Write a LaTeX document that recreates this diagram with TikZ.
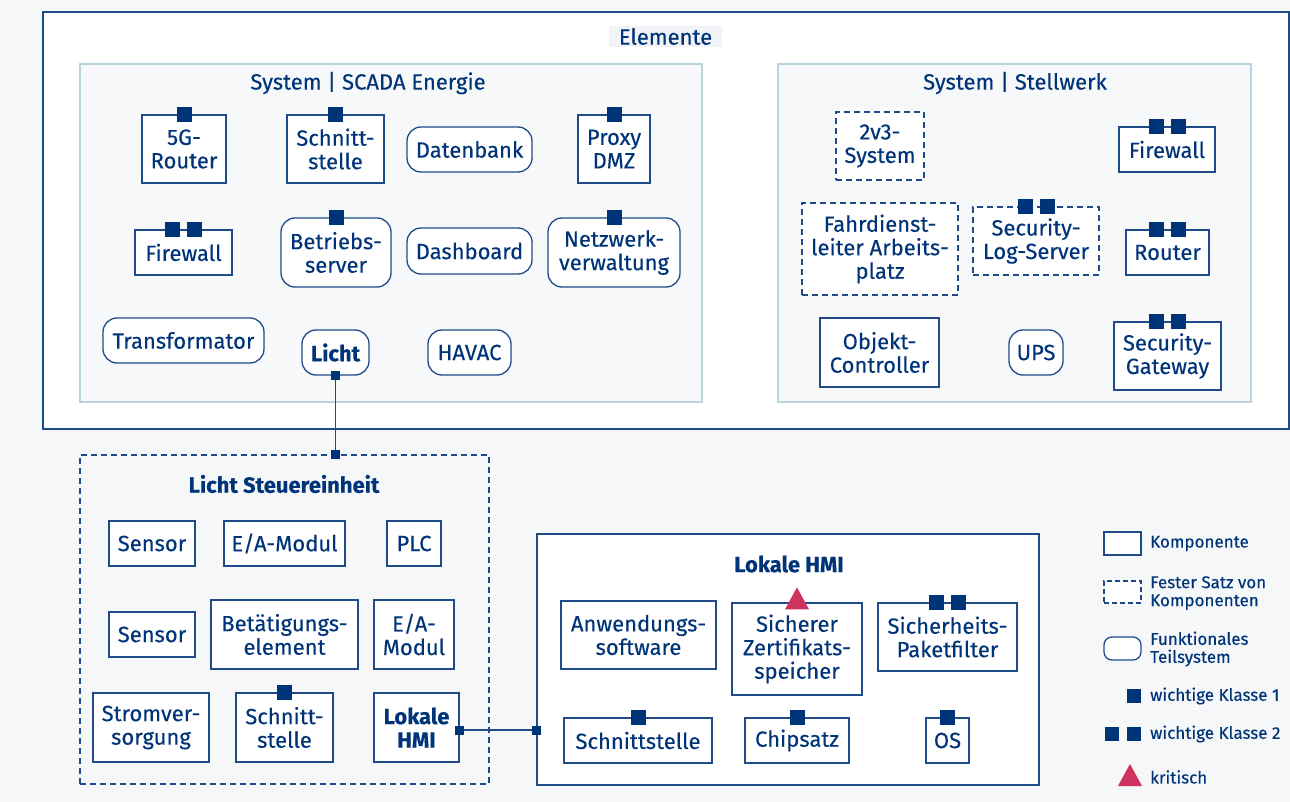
\documentclass[tikz,border=0pt]{standalone}
\usepackage{fontspec}
\setmainfont{Fira Sans}[FakeBold=0.25]
\usetikzlibrary{calc}

\definecolor{navy}{HTML}{003478}
\definecolor{edgeblue}{HTML}{1F4B88}
\definecolor{pagebg}{HTML}{F6F7F9}
\definecolor{sysfill}{HTML}{F6F8FA}
\definecolor{sysedge}{HTML}{B9D2DC}
\definecolor{labelbg}{HTML}{F1F3F6}
\definecolor{crit}{HTML}{D0325F}

\newcommand\dgmfont{\fontsize{22}{23.5}\selectfont}
\newcommand\legfont{\fontsize{17}{18}\selectfont}

\tikzset{
  comp/.style={draw=edgeblue, fill=white, line width=1.3pt, inner sep=0pt,
    align=center, text=navy, font=\dgmfont},
  fixset/.style={comp, dash pattern=on 6pt off 4pt},
  func/.style={comp, rounded corners=14pt},
  frame/.style={draw=edgeblue, line width=1.3pt, inner sep=0pt},
  sysbox/.style={draw=sysedge, fill=sysfill, line width=1.3pt, inner sep=0pt},
  ttl/.style={text=navy, font=\dgmfont, inner sep=0pt},
  mk/.style={fill=navy, minimum size=15pt, inner sep=0pt},
  endmk/.style={fill=navy, minimum size=9pt, inner sep=0pt},
  conn/.style={draw=edgeblue, line width=1.3pt},
  legtext/.style={text=navy, font=\legfont, anchor=west, align=left, inner sep=0pt},
}

\begin{document}
\begin{tikzpicture}[x=1pt, y=-1pt]
\useasboundingbox (0,0) rectangle (1290,802);
\fill[pagebg] (0,0) rectangle (1290,802);

% outer frame of all elements
\node[frame, fill=white, minimum width=1246pt, minimum height=417pt] (elem) at (666,220.5) {};
\node[ttl, fill=labelbg, minimum width=113pt, minimum height=21pt] (elemttl) at (665.5,36.5) {Elemente};

% --- System | SCADA Energie ---
\node[sysbox, minimum width=622pt, minimum height=338pt] (scada) at (391,233) {};
\node[ttl] (scadattl) at (368,83) {System | SCADA Energie};

\node[comp, minimum width=84pt, minimum height=68pt] (r5g) at (184,149) {5G-\\Router};
\node[comp, minimum width=97pt, minimum height=68pt] (schnA) at (335.5,149) {Schnitt-\\stelle};
\node[func, minimum width=125pt, minimum height=45pt] (db) at (469.5,149.5) {Datenbank};
\node[comp, minimum width=72pt, minimum height=68pt] (proxy) at (614,149) {Proxy\\DMZ};
\node[comp, minimum width=97pt, minimum height=45pt] (fwA) at (183.5,252.5) {Firewall};
\node[func, minimum width=110pt, minimum height=69pt] (betr) at (336,252.5) {Betriebs-\\server};
\node[func, minimum width=125pt, minimum height=46pt] (dash) at (469.5,251) {Dashboard};
\node[func, minimum width=132pt, minimum height=69pt] (netz) at (614,252.5) {Netzwerk-\\verwaltung};
\node[func, minimum width=161pt, minimum height=45pt] (trafo) at (183.5,340.5) {Transformator};
\node[func, minimum width=67pt, minimum height=45pt, font=\dgmfont\bfseries] (licht) at (335.5,352.5) {Licht};
\node[func, minimum width=83pt, minimum height=45pt] (havac) at (469.5,352.5) {HAVAC};

\node[mk] at (r5g.north) {};
\node[mk] at (schnA.north) {};
\node[mk] at (proxy.north) {};
\node[mk] at ([xshift=-11pt]fwA.north) {};
\node[mk] at ([xshift=11pt]fwA.north) {};
\node[mk] at (betr.north) {};
\node[mk] at (netz.north) {};

% --- System | Stellwerk ---
\node[sysbox, minimum width=473pt, minimum height=338pt] (stw) at (1014.5,233) {};
\node[ttl] (stwttl) at (1015,83) {System | Stellwerk};

\node[fixset, minimum width=88pt, minimum height=68pt] (v23) at (880,146) {2v3-\\System};
\node[comp, minimum width=96pt, minimum height=45pt] (fwB) at (1167,149.5) {Firewall};
\node[fixset, minimum width=156pt, minimum height=92pt] (fdl) at (880,249) {Fahrdienst-\\leiter Arbeits-\\platz};
\node[fixset, minimum width=126pt, minimum height=68pt] (slog) at (1036,241) {Security-\\Log-Server};
\node[comp, minimum width=83pt, minimum height=45pt] (router) at (1167.5,252.5) {Router};
\node[comp, minimum width=119pt, minimum height=69pt] (objc) at (879.5,352.5) {Objekt-\\Controller};
\node[func, minimum width=54pt, minimum height=45pt] (ups) at (1036,352.5) {UPS};
\node[comp, minimum width=107pt, minimum height=68pt] (sgw) at (1167.5,356) {Security-\\Gateway};

\foreach \n in {fwB, slog, router, sgw}{
  \node[mk] at ([xshift=-11pt]\n.north) {};
  \node[mk] at ([xshift=11pt]\n.north) {};
}

% --- Licht Steuereinheit ---
\node[frame, dash pattern=on 6pt off 4pt, minimum width=409pt, minimum height=329pt] (lse) at (284.5,619.5) {};
\node[ttl, font=\dgmfont\bfseries] (lsettl) at (284,484) {Licht Steuereinheit};

\node[comp, minimum width=86pt, minimum height=45pt] (sensA) at (152,543.5) {Sensor};
\node[comp, minimum width=121pt, minimum height=45pt] (eaA) at (284.5,543.5) {E/A-Modul};
\node[comp, minimum width=54pt, minimum height=45pt] (plc) at (414,543.5) {PLC};
\node[comp, minimum width=86pt, minimum height=45pt] (sensB) at (152,634.5) {Sensor};
\node[comp, minimum width=147pt, minimum height=69pt] (betae) at (284.5,634.5) {Betätigungs-\\element};
\node[comp, minimum width=80pt, minimum height=69pt] (eaB) at (414,634.5) {E/A-\\Modul};
\node[comp, minimum width=116pt, minimum height=69pt] (strom) at (151,727.5) {Stromver-\\sorgung};
\node[comp, minimum width=97pt, minimum height=69pt] (schnB) at (284.5,727.5) {Schnitt-\\stelle};
\node[comp, minimum width=85pt, minimum height=69pt, font=\dgmfont\bfseries] (lhmi) at (416.5,727.5) {Lokale\\HMI};
\node[mk] at (schnB.north) {};

% --- Lokale HMI ---
\node[frame, fill=white, minimum width=502pt, minimum height=251pt] (hmi) at (788,659.5) {};
\node[ttl, font=\dgmfont\bfseries] (hmittl) at (789,564) {Lokale HMI};

\node[comp, minimum width=155pt, minimum height=68pt] (anw) at (638.5,635) {Anwendungs-\\software};
\node[comp, minimum width=130pt, minimum height=92pt] (zert) at (797,649) {Sicherer\\Zertifikats-\\speicher};
\node[comp, minimum width=139pt, minimum height=68pt] (paket) at (947.5,637) {Sicherheits-\\Paketfilter};
\node[comp, minimum width=148pt, minimum height=45pt] (schnC) at (638,740.5) {Schnittstelle};
\node[comp, minimum width=104pt, minimum height=45pt] (chip) at (797,740.5) {Chipsatz};
\node[comp, minimum width=43pt, minimum height=45pt] (os) at (947.5,740.5) {OS};

\fill[crit] ($(zert.north)+(-12,7)$) -- ($(zert.north)+(12,7)$) -- ($(zert.north)+(0,-15)$) -- cycle;
\node[mk] at ([xshift=-11pt]paket.north) {};
\node[mk] at ([xshift=11pt]paket.north) {};
\node[mk] at (schnC.north) {};
\node[mk] at (chip.north) {};
\node[mk] at (os.north) {};

% --- connectors ---
\draw[conn] (licht.south) -- (licht.south |- lse.north);
\node[endmk] at (licht.south) {};
\node[endmk] at (licht.south |- lse.north) {};
\coordinate (hmiin) at ([yshift=-2.5pt]lhmi.east -| hmi.west);
\draw[conn] ([yshift=-2.5pt]lhmi.east) -- (hmiin);
\node[endmk] at ([yshift=-2.5pt]lhmi.east) {};
\node[endmk] at (hmiin) {};

% --- legend ---
\node[comp, minimum width=37pt, minimum height=23pt] (lgA) at (1122.5,543.5) {};
\node[legtext] at (1150,543.5) {Komponente};
\node[fixset, dash pattern=on 5pt off 3pt, minimum width=37pt, minimum height=22pt] (lgB) at (1122.5,592) {};
\node[legtext] at (1150,593) {Fester Satz von\\Komponenten};
\node[func, rounded corners=8pt, minimum width=37pt, minimum height=23pt] (lgC) at (1122.5,648.5) {};
\node[legtext] at (1150,649) {Funktionales\\Teilsystem};
\node[mk, minimum size=14pt] (lgD) at (1134,696) {};
\node[legtext] at (1150,696) {wichtige Klasse 1};
\node[mk, minimum size=14pt] (lgE) at (1111.5,734) {};
\node[mk, minimum size=14pt] (lgF) at (1134,734) {};
\node[legtext] at (1150,734) {wichtige Klasse 2};
\fill[crit] (1118,786) -- (1142,786) -- (1130,764) -- cycle;
\node[legtext] at (1150,777) {kritisch};
\end{tikzpicture}
\end{document}
